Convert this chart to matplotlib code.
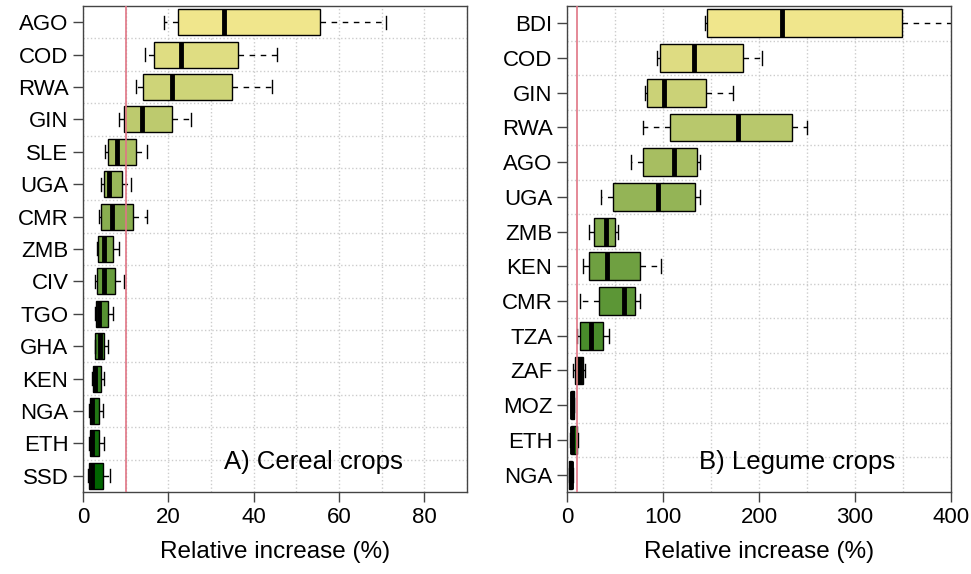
import numpy as np
import matplotlib
matplotlib.use('Agg')
import matplotlib.pyplot as plt
from matplotlib.colors import LinearSegmentedColormap

plt.rcParams['font.family'] = ['Liberation Sans', 'DejaVu Sans']

# Cereal crops: whisker low, Q1, median, Q3, whisker high (% relative increase)
cereal_countries = ['AGO', 'COD', 'RWA', 'GIN', 'SLE', 'UGA', 'CMR', 'ZMB',
                    'CIV', 'TGO', 'GHA', 'KEN', 'NGA', 'ETH', 'SSD']
cereal_wlo = [18.9, 14.6, 12.3, 8.4, 5.2, 4.3, 3.8, 3.2, 2.9, 2.7, 2.7, 2.2, 1.5, 1.4, 1.2]
cereal_q1 = [22.3, 16.7, 14.1, 9.7, 5.9, 4.8, 4.3, 3.4, 3.2, 3.0, 2.9, 2.3, 1.6, 1.6, 1.4]
cereal_med = [33.1, 23.0, 20.9, 13.9, 8.0, 6.2, 6.8, 4.8, 4.8, 3.8, 4.0, 2.9, 2.1, 2.0, 2.1]
cereal_q3 = [55.6, 36.3, 35.0, 20.9, 12.3, 9.2, 11.6, 7.0, 7.6, 5.9, 5.0, 4.1, 3.8, 3.8, 4.7]
cereal_whi = [71.0, 45.5, 44.3, 25.3, 14.9, 11.2, 14.9, 8.4, 9.5, 7.0, 5.9, 4.8, 4.7, 4.8, 6.3]

# Legume crops
legume_countries = ['BDI', 'COD', 'GIN', 'RWA', 'AGO', 'UGA', 'ZMB', 'KEN',
                    'CMR', 'TZA', 'ZAF', 'MOZ', 'ETH', 'NGA']
legume_wlo = [143.8, 93.8, 80.9, 79.5, 67.0, 35.1, 22.9, 17.0, 13.5, 10.8, 6.6, 3.9, 3.1, 2.1]
legume_q1 = [145.8, 97.2, 83.3, 107.6, 79.2, 48.3, 28.5, 22.9, 33.3, 13.9, 8.7, 4.2, 4.2, 2.4]
legume_med = [223.6, 132.3, 101.4, 178.1, 111.5, 94.8, 40.6, 41.7, 59.4, 25.0, 13.9, 5.6, 5.6, 3.8]
legume_q3 = [349.0, 183.0, 144.8, 234.4, 135.4, 133.3, 50.3, 76.0, 71.2, 37.8, 17.0, 7.3, 10.8, 5.6]
legume_whi = [430.0, 203.0, 172.9, 250.0, 138.5, 138.2, 52.8, 97.6, 75.7, 43.8, 18.4, 7.6, 11.8, 5.9]

ramp = LinearSegmentedColormap.from_list('kg', ['#F0E68C', '#006400'])


def draw_panel(ax, countries, wlo, q1, med, q3, whi, xmax, xmaj, xmin, label):
    n = len(countries)
    stats = []
    for i in range(n):
        stats.append(dict(label=countries[i], whislo=wlo[i], q1=q1[i], med=med[i],
                          q3=q3[i], whishi=whi[i], fliers=[]))
    pos = np.arange(1, n + 1)
    bp = ax.bxp(stats, positions=pos, widths=0.8, capwidths=0.4, orientation='horizontal',
                patch_artist=True, showfliers=False,
                boxprops=dict(edgecolor='black', linewidth=1.0),
                medianprops=dict(color='black', linewidth=3.5, solid_capstyle='butt'),
                whiskerprops=dict(color='black', linewidth=1.0, linestyle=(0, (4, 4))),
                capprops=dict(color='black', linewidth=1.0))
    cols = ramp(np.linspace(0, 1, n))
    for patch, c in zip(bp['boxes'], cols):
        patch.set_facecolor(c)
    for m in bp['medians']:
        m.set_zorder(4)

    # 10% reference line
    ax.axvline(10, color='#E07585', linewidth=1.2, zorder=6)

    ax.set_xlim(0, xmax)
    ax.set_ylim(n + 0.5, 0.5)
    ax.set_xticks(np.arange(0, xmax + 1, xmaj))
    ax.set_xticks(np.arange(0, xmax + 1, xmin), minor=True)
    ax.set_yticks(np.arange(1.5, n, 1), minor=True)
    ax.set_axisbelow(True)
    ax.grid(True, which='minor', color='#CCCCCC', linestyle=':', linewidth=1.0)
    ax.grid(True, which='major', axis='x', color='#CCCCCC', linestyle=':', linewidth=1.0)
    ax.tick_params(which='minor', length=0)
    ax.tick_params(which='major', length=7, width=1, color='#444444', labelsize=16, pad=3.5)
    for s in ax.spines.values():
        s.set_color('#444444')
        s.set_linewidth(1.0)
    ax.set_xlabel('Relative increase (%)', fontsize=17.5, labelpad=10)
    ax.text(0.6, 0.062, label, transform=ax.transAxes, ha='center', va='center',
            fontsize=18.5)


fig = plt.figure(figsize=(9.71, 5.74), dpi=100)
ax1 = fig.add_axes([0.0855, 0.1429, 0.3955, 0.8467])
ax2 = fig.add_axes([0.584, 0.1429, 0.3955, 0.8467])

draw_panel(ax1, cereal_countries, cereal_wlo, cereal_q1, cereal_med, cereal_q3, cereal_whi,
           90, 20, 10, 'A) Cereal crops')
draw_panel(ax2, legume_countries, legume_wlo, legume_q1, legume_med, legume_q3, legume_whi,
           400, 100, 50, 'B) Legume crops')

fig.savefig('out.png', dpi=100)
